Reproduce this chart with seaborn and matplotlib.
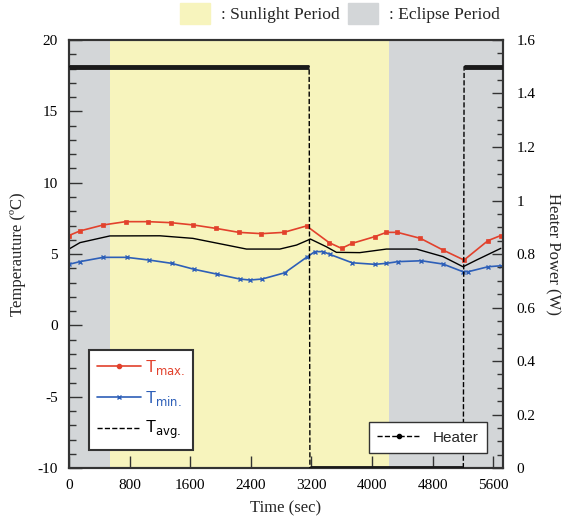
import matplotlib
matplotlib.use("Agg")
import matplotlib.pyplot as plt
import seaborn as sns
import pandas as pd
from matplotlib.lines import Line2D
from matplotlib.patches import Patch
from matplotlib.ticker import MultipleLocator

# Temperature readings (time in sec, temperature in degC)
tmax_time = [0, 145, 453, 748, 1046, 1345, 1640, 1939, 2243, 2541, 2836, 3135,
             3434, 3597, 3737, 4036, 4190, 4335, 4639, 4937, 5214, 5530, 5700]
tmax_temp = [6.3, 6.62, 7.04, 7.27, 7.27, 7.2, 7.04, 6.8, 6.52, 6.43, 6.52, 6.97,
             5.8, 5.4, 5.75, 6.22, 6.52, 6.52, 6.1, 5.28, 4.58, 5.94, 6.3]

tavg_time = [0, 145, 540, 1200, 1635, 2080, 2343, 2783, 3003, 3187, 3398, 3530,
             3838, 4190, 4586, 4937, 5201, 5378, 5700]
tavg_temp = [5.35, 5.8, 6.27, 6.28, 6.1, 5.63, 5.35, 5.35, 5.63, 6.05, 5.51, 5.12,
             5.1, 5.35, 5.35, 4.82, 4.11, 4.58, 5.4]

tmin_time = [0, 145, 453, 761, 1059, 1355, 1653, 1948, 2255, 2387, 2550, 2849,
             3135, 3245, 3354, 3442, 3737, 4036, 4190, 4343, 4652, 4937, 5201,
             5267, 5530, 5700]
tmin_temp = [4.28, 4.47, 4.77, 4.77, 4.58, 4.35, 3.93, 3.6, 3.25, 3.18, 3.25, 3.69,
             4.77, 5.17, 5.17, 4.98, 4.39, 4.28, 4.35, 4.47, 4.53, 4.3, 3.76,
             3.76, 4.11, 4.18]

# Heater power (W): switching points
heater_time = [0, 3170, 3180, 5205, 5215, 5725]
heater_power = [1.5, 1.5, 0, 0, 1.5, 1.5]

# Orbit periods (sec)
eclipse_periods = [(0, 540), (4220, 5725)]
sunlight_periods = [(540, 4220)]

RED = "#e2412c"
BLUE = "#2d5fb8"
YELLOW = "#f7f4bd"
GRAY = "#d3d6d8"
DARK = "#333333"

sns.set_style("ticks")
plt.rcParams["font.family"] = ["Liberation Serif", "DejaVu Serif"]
plt.rcParams["mathtext.fontset"] = "dejavusans"
plt.rcParams["axes.unicode_minus"] = False

fig = plt.figure(figsize=(5.7, 5.26), dpi=100)
ax = fig.add_axes([0.121, 0.110, 0.761, 0.814])

for a, b in eclipse_periods:
    ax.axvspan(a, b, color=GRAY, lw=0, zorder=0)
for a, b in sunlight_periods:
    ax.axvspan(a, b, color=YELLOW, lw=0, zorder=0)

df_max = pd.DataFrame({"t": tmax_time, "T": tmax_temp})
df_avg = pd.DataFrame({"t": tavg_time, "T": tavg_temp})
df_min = pd.DataFrame({"t": tmin_time, "T": tmin_temp})

sns.lineplot(data=df_max, x="t", y="T", ax=ax, color=RED, lw=1.2, marker="s",
             markersize=3, markeredgecolor=RED, markeredgewidth=0.5, zorder=3)
sns.lineplot(data=df_min, x="t", y="T", ax=ax, color=BLUE, lw=1.2, marker="x",
             markersize=3.5, markeredgecolor=BLUE, markeredgewidth=1, zorder=3)
sns.lineplot(data=df_avg, x="t", y="T", ax=ax, color="black", lw=1.0, zorder=3)

ax.set_xlim(0, 5725)
ax.set_ylim(-10, 20)
ax.xaxis.set_major_locator(MultipleLocator(800))
ax.yaxis.set_major_locator(MultipleLocator(5))
ax.yaxis.set_minor_locator(MultipleLocator(1))
ax.set_xlabel("Time (sec)", fontsize=12, labelpad=6)
ax.set_ylabel("Temperauture (ºC)", fontsize=12, labelpad=8)
ax.tick_params(axis="both", which="both", direction="in", labelsize=11, colors=DARK,
               labelcolor="black", pad=8)
ax.tick_params(axis="both", which="major", length=9, width=1)
ax.tick_params(axis="y", which="minor", length=5, width=1)
for s in ax.spines.values():
    s.set_linewidth(1.5)
    s.set_color(DARK)

ax2 = ax.twinx()
ax2.plot(heater_time, heater_power, color="black", ls="--", lw=1.0, zorder=4)
for i in range(0, len(heater_time) - 1, 2):
    ax2.hlines(heater_power[i], heater_time[i], heater_time[i + 1], color="#1a1a1a",
               lw=3.5, zorder=5)
ax2.set_ylim(0, 1.6)
ax2.set_yticks([0, 0.2, 0.4, 0.6, 0.8, 1.0, 1.2, 1.4, 1.6])
ax2.set_yticklabels(["0", "0.2", "0.4", "0.6", "0.8", "1", "1.2", "1.4", "1.6"])
ax2.yaxis.set_minor_locator(MultipleLocator(0.05))
ax2.set_ylabel("Heater Power (W)", fontsize=12, rotation=270, labelpad=18)
ax2.tick_params(axis="y", which="both", direction="in", labelsize=11, colors=DARK,
                labelcolor="black", pad=10)
ax2.tick_params(axis="y", which="major", length=8, width=1)
ax2.tick_params(axis="y", which="minor", length=4, width=1)
for s in ax2.spines.values():
    s.set_linewidth(1.5)
    s.set_color(DARK)

# temperature legend
temp_handles = [
    Line2D([], [], color=RED, lw=1.2, marker="o", markersize=3),
    Line2D([], [], color=BLUE, lw=1.2, marker="x", markersize=3),
    Line2D([], [], color="black", lw=1.0, ls="--"),
]
temp_labels = [r"T$_{\rm max.}$", r"T$_{\rm min.}$", r"T$_{\rm avg.}$"]
leg = ax2.legend(temp_handles, temp_labels, loc="lower left",
                 bbox_to_anchor=(0.046, 0.043), handlelength=2.6, labelspacing=0.7,
                 handletextpad=0.25, fancybox=False, framealpha=1, edgecolor=DARK,
                 prop={"family": "Liberation Sans", "size": 12}, borderpad=0.5,
                 borderaxespad=0)
leg.get_frame().set_linewidth(1.5)
for txt, c in zip(leg.get_texts(), [RED, BLUE, "black"]):
    txt.set_color(c)
ax2.add_artist(leg)

heat_leg = ax2.legend([Line2D([], [], color="black", ls="--", lw=1, marker="o",
                              markersize=3)], ["Heater"], loc="lower right",
                      bbox_to_anchor=(0.963, 0.035), fancybox=False, framealpha=1,
                      edgecolor=DARK, handlelength=2.8, borderaxespad=0,
                      borderpad=0.55, prop={"family": "Liberation Sans", "size": 11})
heat_leg.get_frame().set_linewidth(1.0)

# period legend on top
fig.legend([Patch(color=YELLOW), Patch(color=GRAY)],
           [": Sunlight Period", ": Eclipse Period"], loc="upper left",
           bbox_to_anchor=(0.316, 0.994), ncol=2, frameon=False, fontsize=12.6,
           handlelength=1.7, handleheight=1.45, handletextpad=0.65,
           columnspacing=0.45, borderpad=0, borderaxespad=0)

fig.savefig("out.png", dpi=100)
